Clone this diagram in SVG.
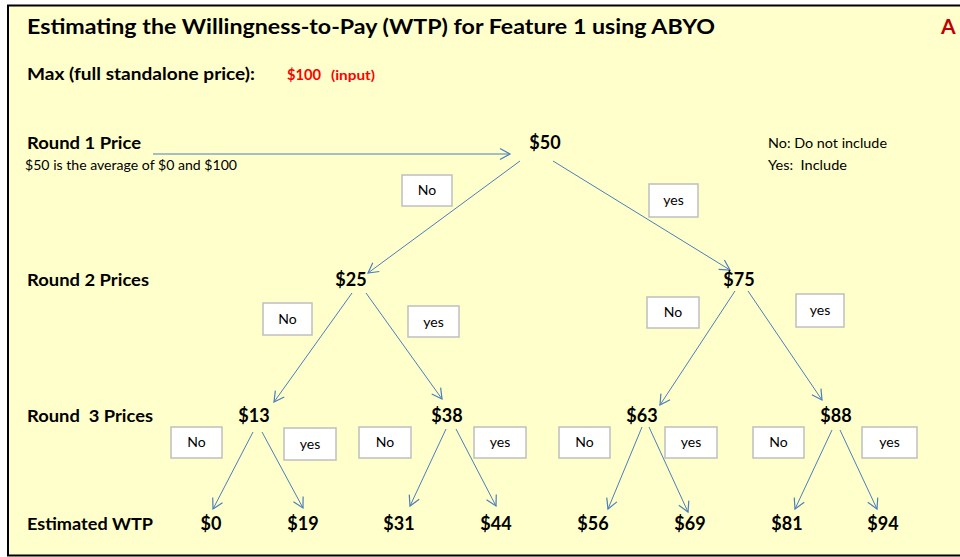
<svg xmlns="http://www.w3.org/2000/svg" width="960" height="557" viewBox="0 0 960 557">
<style>
text{font-family:Lato,"Open Sans","Liberation Sans",sans-serif;fill:#000}
.b{font-weight:bold}
.t{font-size:21px;font-weight:bold}
.lbl{font-size:17px;font-weight:bold}
.p{font-size:18px;font-weight:bold;text-anchor:middle}
.s{font-size:13px}
.red{fill:#FF0000}
.box rect{fill:#fff;stroke:#BFBFBF;stroke-width:1.5}
.box text{font-size:14px;text-anchor:middle}
.c line{stroke:#4A7EBB;stroke-width:1;marker-end:url(#ah)}
</style>
<defs>
<marker id="ah" markerUnits="userSpaceOnUse" markerWidth="14" markerHeight="14" viewBox="0 0 14 14" refX="12" refY="7" orient="auto">
<path d="M2,1.5 L12,7 L2,12.5" fill="none" stroke="#4A7EBB" stroke-width="1.2"/>
</marker>
</defs>
<rect x="8" y="5.5" width="960" height="550" fill="#FFFFCC" stroke="#000" stroke-width="2"/>
<text class="t" x="27" y="34" textLength="688" lengthAdjust="spacingAndGlyphs">Estimating the Willingness-to-Pay (WTP) for Feature 1 using ABYO</text>
<text class="t" x="941" y="34" style="fill:#C00000">A</text>
<text class="lbl" x="27" y="80" textLength="228" lengthAdjust="spacingAndGlyphs">Max (full standalone price):</text>
<text class="b red" x="287" y="80" font-size="15" textLength="34" lengthAdjust="spacingAndGlyphs">$100</text>
<text class="b red" x="331" y="80" font-size="13" textLength="44" lengthAdjust="spacingAndGlyphs">(input)</text>
<text class="lbl" x="27" y="149" textLength="114" lengthAdjust="spacingAndGlyphs">Round 1 Price</text>
<text class="s" x="25" y="170" textLength="212" lengthAdjust="spacingAndGlyphs">$50 is the average of $0 and $100</text>
<text class="s" x="768" y="148" textLength="119" lengthAdjust="spacingAndGlyphs">No: Do not include</text>
<text class="s" x="768" y="170" textLength="79" lengthAdjust="spacingAndGlyphs" xml:space="preserve">Yes:  Include</text>
<text class="lbl" x="27" y="286" textLength="122" lengthAdjust="spacingAndGlyphs">Round 2 Prices</text>
<text class="lbl" x="27" y="422" textLength="126" lengthAdjust="spacingAndGlyphs" xml:space="preserve">Round  3 Prices</text>
<text class="lbl" x="27" y="530" textLength="126" lengthAdjust="spacingAndGlyphs">Estimated WTP</text>
<g class="c" id="connectors">
<line x1="153" y1="154" x2="510" y2="154"/>
<line x1="520" y1="161" x2="368" y2="273"/>
<line x1="553" y1="161" x2="730" y2="270"/>
<line x1="352" y1="293" x2="274" y2="402"/>
<line x1="366" y1="293" x2="442" y2="399"/>
<line x1="735" y1="291" x2="660" y2="405"/>
<line x1="748" y1="291" x2="822" y2="400"/>
<line x1="253" y1="432" x2="213" y2="509"/>
<line x1="262" y1="432" x2="303" y2="508"/>
<line x1="446" y1="429" x2="410" y2="506"/>
<line x1="456" y1="429" x2="496" y2="506"/>
<line x1="642" y1="427" x2="608" y2="509"/>
<line x1="649" y1="427" x2="688" y2="512"/>
<line x1="832" y1="430" x2="795" y2="509"/>
<line x1="840" y1="430" x2="877" y2="509"/>
</g>
<g id="n50"><text class="p" x="545" y="149">$50</text></g>
<g id="n25"><text class="p" x="351" y="286">$25</text></g>
<g id="n75"><text class="p" x="739" y="286">$75</text></g>
<g id="n13"><text class="p" x="254" y="422">$13</text></g>
<g id="n38"><text class="p" x="447" y="422">$38</text></g>
<g id="n63"><text class="p" x="642" y="422">$63</text></g>
<g id="n88"><text class="p" x="836" y="422">$88</text></g>
<g id="w0"><text class="p" x="211" y="530">$0</text></g>
<g id="w19"><text class="p" x="303" y="530">$19</text></g>
<g id="w31"><text class="p" x="399" y="530">$31</text></g>
<g id="w44"><text class="p" x="496" y="530">$44</text></g>
<g id="w56"><text class="p" x="593" y="530">$56</text></g>
<g id="w69"><text class="p" x="690" y="530">$69</text></g>
<g id="w81"><text class="p" x="787" y="530">$81</text></g>
<g id="w94"><text class="p" x="883" y="530">$94</text></g>
<g class="box" id="b1no"><rect x="402" y="175" width="50" height="31"/><text x="427" y="195">No</text></g>
<g class="box" id="b1yes"><rect x="649" y="184" width="49" height="33"/><text x="673.5" y="205">yes</text></g>
<g class="box" id="b2no"><rect x="263" y="303" width="49" height="32"/><text x="287.5" y="324">No</text></g>
<g class="box" id="b2yes"><rect x="408" y="306" width="51" height="31"/><text x="433.5" y="327">yes</text></g>
<g class="box" id="b3no"><rect x="647" y="297" width="52" height="31"/><text x="673" y="317">No</text></g>
<g class="box" id="b3yes"><rect x="796" y="294" width="48" height="33"/><text x="820" y="315">yes</text></g>
<g class="box" id="b4no"><rect x="171" y="427" width="51" height="31"/><text x="196.5" y="447">No</text></g>
<g class="box" id="b4yes"><rect x="284" y="428" width="52" height="32"/><text x="310" y="449">yes</text></g>
<g class="box" id="b5no"><rect x="359" y="427" width="52" height="31"/><text x="385" y="447">No</text></g>
<g class="box" id="b5yes"><rect x="474" y="427" width="52" height="31"/><text x="500" y="447">yes</text></g>
<g class="box" id="b6no"><rect x="559" y="427" width="51" height="31"/><text x="584.5" y="447">No</text></g>
<g class="box" id="b6yes"><rect x="665" y="427" width="52" height="31"/><text x="691" y="447">yes</text></g>
<g class="box" id="b7no"><rect x="753" y="427" width="51" height="31"/><text x="778.5" y="447">No</text></g>
<g class="box" id="b7yes"><rect x="862" y="427" width="55" height="31"/><text x="889.5" y="447">yes</text></g>
</svg>
